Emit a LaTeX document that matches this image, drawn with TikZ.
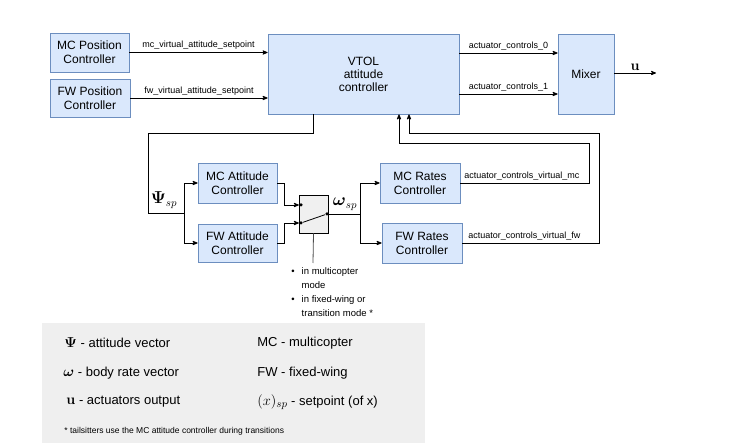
\documentclass[tikz,border=0pt]{standalone}
\usepackage{amsmath}
\usepackage{amssymb}
\usepackage[no-math]{fontspec}
\setmainfont{Liberation Sans}
\usepackage{tikz}
\usetikzlibrary{arrows}

\definecolor{boxfill}{HTML}{DAE8FC}
\definecolor{boxline}{HTML}{6C8EBF}
\definecolor{swfill}{HTML}{F0F0F0}
\definecolor{legfill}{HTML}{EFEFEF}
\newcommand{\bigsym}[1]{{\fontsize{15}{15}\selectfont$#1$}}

\begin{document}
\begin{tikzpicture}[x=1pt,y=-1pt,>=stealth',line width=0.8pt]
\tikzstyle{block}=[rectangle,draw=boxline,fill=boxfill,line width=0.8pt,align=center,inner sep=0pt,font=\fontsize{12}{14}\selectfont]
\tikzstyle{lbl}=[inner sep=1.5pt,font=\fontsize{9}{10}\selectfont]
\tikzstyle{leg}=[anchor=west,inner sep=0pt,font=\fontsize{13}{15}\selectfont]
\tikzstyle{dot}=[circle,fill=black,inner sep=0pt,minimum size=3.5pt]
\useasboundingbox (0,0) rectangle (756,443);
% legend background
\fill[legfill] (42,323) rectangle (425,443);
% blocks
\node[block,minimum width=79pt,minimum height=39pt] (mcpos) at (89.5,52.5) {MC Position\\Controller};
\node[block,minimum width=80pt,minimum height=38pt] (fwpos) at (90,98) {FW Position\\Controller};
\node[block,minimum width=191pt,minimum height=80pt,font=\fontsize{12}{13}\selectfont] (vtol) at (363.5,74) {VTOL\\attitude\\controller};
\node[block,minimum width=56pt,minimum height=80pt] (mixer) at (586,74) {Mixer};
\node[block,minimum width=79pt,minimum height=40pt] (mcatt) at (237.5,183) {MC Attitude\\Controller};
\node[block,minimum width=79pt,minimum height=38pt] (fwatt) at (237.5,243) {FW Attitude\\Controller};
\node[block,minimum width=80pt,minimum height=40pt] (mcrate) at (420,183) {MC Rates\\Controller};
\node[block,minimum width=80pt,minimum height=40pt] (fwrate) at (422,243) {FW Rates\\Controller};
\node[rectangle,draw=black,fill=swfill,line width=0.8pt,minimum width=29pt,minimum height=38pt,inner sep=0pt] (sw) at (313.5,214) {};
\node[dot] (in1) at (301,205) {};
\node[dot] (in2) at (301,223) {};
\node[dot] (out) at (327,214) {};
\coordinate (psi) at (184,213);
\coordinate (wsp) at (360,214);
\coordinate (uend) at (656,73);
% top row
\draw[->] (mcpos.east) -- (mcpos.east -| vtol.west) node[lbl,midway,above=1pt] {mc\_virtual\_attitude\_setpoint};
\draw[->] (fwpos.east) -- (fwpos.east -| vtol.west) node[lbl,midway,above=1pt] {fw\_virtual\_attitude\_setpoint};
\draw[->] ([yshift=21pt]vtol.east) -- ([yshift=21pt]mixer.west) node[lbl,midway,above=1pt] {actuator\_controls\_0};
\draw[->] ([yshift=-20pt]vtol.east) -- ([yshift=-20pt]mixer.west) node[lbl,midway,above=1pt] {actuator\_controls\_1};
\draw[->] (mixer.east |- uend) -- (uend) node[midway,above=-1pt,font=\fontsize{15}{15}\selectfont] {$\mathbf{u}$};
% attitude setpoint
\draw ([xshift=-50.5pt]vtol.south) |- (148,133) |- (psi);
\node[font=\fontsize{16}{16}\selectfont] (psilbl) at (164,200) {$\mathbf{\Psi}_{sp}$};
\draw[->] (psi) |- (mcatt.west);
\draw[->] (psi) |- (fwatt.west);
% switch
\draw[->] (mcatt.east) -- ++(7,0) |- (in1);
\draw[->] (fwatt.east) -- ++(7,0) |- (in2);
\draw (in2) -- (out);
\draw (out) -- (wsp);
\node[font=\fontsize{16}{16}\selectfont] (wlbl) at (345,204) {$\boldsymbol{\omega}_{sp}$};
\draw[->] (wsp) |- (mcrate.west);
\draw[->] (wsp) |- (fwrate.west);
\draw[black!70] (sw.south) -- (313,263);
\node[anchor=north west,inner sep=0pt,font=\fontsize{9.5}{14}\selectfont] (modes) at (291,264) {%
\begin{tabular}{@{}l@{\hspace{7pt}}l@{}}
\textbullet & in multicopter\\
 & mode\\
\textbullet & in fixed-wing or\\
 & transition mode *
\end{tabular}};
% feedback to vtol
\draw[->] (mcrate.east) -| (589,143) -| ([xshift=35.5pt]vtol.south);
\draw[->] (fwrate.east) -| (599,133) -| ([xshift=45.5pt]vtol.south);
\node[lbl,anchor=south west] at ([xshift=2pt,yshift=1pt]mcrate.east) {actuator\_controls\_virtual\_mc};
\node[lbl,anchor=south west] at ([xshift=4pt,yshift=1pt]fwrate.east) {actuator\_controls\_virtual\_fw};
% legend
\node[leg] (l1) at (64,343) {\bigsym{\mathbf{\Psi}} - attitude vector};
\node[leg] (l2) at (63,373) {\bigsym{\boldsymbol{\omega}} - body rate vector};
\node[leg] (l3) at (66,402) {\bigsym{\mathbf{u}} - actuators output};
\node[leg] (l4) at (257,343) {MC - multicopter};
\node[leg] (l5) at (257,373) {FW - fixed-wing};
\node[leg] (l6) at (257,402) {\bigsym{(x)_{sp}} - setpoint (of x)};
\node[anchor=west,inner sep=0pt,font=\fontsize{8.5}{9}\selectfont] (note) at (64,431) {* tailsitters use the MC attitude controller during transitions};
\end{tikzpicture}
\end{document}
